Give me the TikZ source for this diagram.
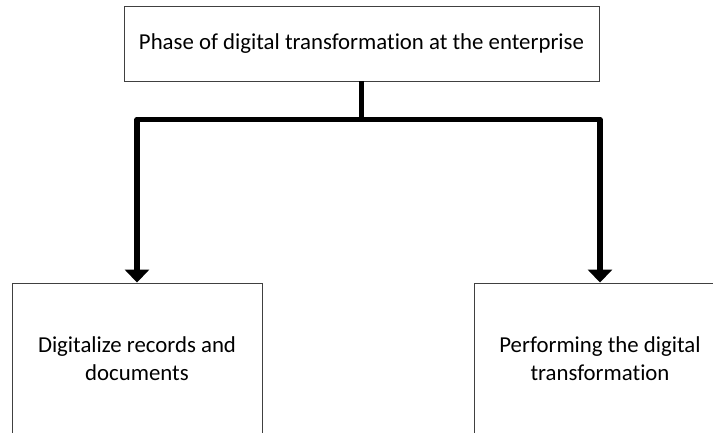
\documentclass[tikz,border=0pt]{standalone}
\usepackage{fontspec}
\setmainfont{Carlito}[Ligatures=NoCommon]
\usetikzlibrary{arrows.meta}

\begin{document}
\begin{tikzpicture}[x=1pt, y=1pt,
    phase/.style={draw=black!75, line width=0.9pt, align=center,
      font=\fontsize{22.8}{28}\selectfont, inner sep=0pt},
    link/.style={line width=5.5pt, line join=round}]

  \clip (0,0) rectangle (713,432);

  % boxes
  \node[phase, minimum width=475, minimum height=75] (top) at (361.5,388.5)
    {Phase of digital transformation at the enterprise};
  \node[phase, minimum width=250, minimum height=152] (left) at (137,73)
    {Digitalize records and\\documents};
  \node[phase, minimum width=252, minimum height=152] (right) at (600,73)
    {Performing the digital\\transformation};

  % branching arrows
  \draw[link] (top.south) -- ++(0,-38) coordinate (split);
  \foreach \target in {left,right}{
    \draw[link, -{Triangle[width=24pt,length=13pt]}] (split) -| (\target.north);
  }
\end{tikzpicture}
\end{document}
